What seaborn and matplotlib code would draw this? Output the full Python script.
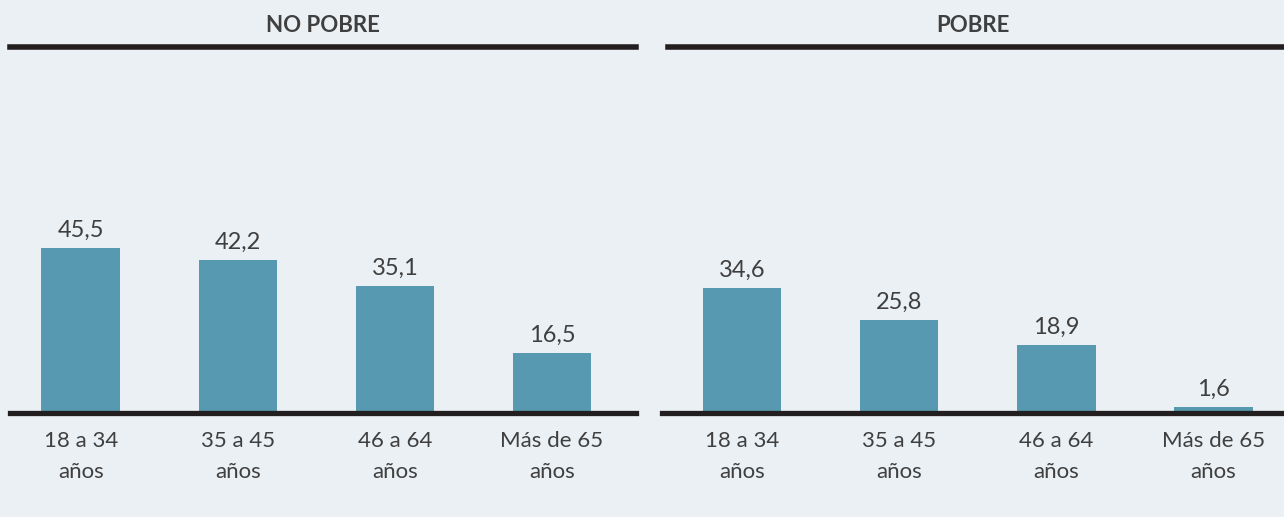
import matplotlib
matplotlib.use('Agg')

import matplotlib.pyplot as plt
import seaborn as sns
import pandas as pd

# Data
categories = ["18 a 34\naños", "35 a 45\naños", "46 a 64\naños", "Más de 65\naños"]
no_pobre = [45.5, 42.2, 35.1, 16.5]
pobre = [34.6, 25.8, 18.9, 1.6]
panel_titles = ["NO POBRE", "POBRE"]

bg = '#EBF0F4'
bar_color = '#5799B0'
text_color = '#3F3F3F'
line_color = '#231F20'

sns.set_style('white')
plt.rcParams['font.family'] = ['Lato', 'DejaVu Sans']

fig = plt.figure(figsize=(12.84, 5.17), dpi=100, facecolor=bg)
ax_left = fig.add_axes([10 / 1284, 1 - 413 / 517, 626 / 1284, 366 / 517])
ax_right = fig.add_axes([662 / 1284, 1 - 413 / 517, 622 / 1284, 366 / 517])

panels = [
    (ax_left, no_pobre, panel_titles[0], (-0.45, 3.535), None),
    (ax_right, pobre, panel_titles[1], (-0.51, 3.45), -0.471),
]

for ax, values, title, xlim, top_start in panels:
    df = pd.DataFrame({'grupo': categories, 'valor': values})
    sns.barplot(data=df, x='grupo', y='valor', color=bar_color, width=0.5,
                saturation=1, linewidth=0, ax=ax)
    ax.set_facecolor(bg)
    ax.set_xlim(*xlim)
    ax.set_ylim(0, 101)
    ax.set_xlabel('')
    ax.set_ylabel('')
    ax.set_yticks([])
    ax.tick_params(axis='x', length=0, pad=13, labelsize=16, labelcolor=text_color)
    for lbl in ax.get_xticklabels():
        lbl.set_linespacing(1.7)
    for s in ['left', 'right']:
        ax.spines[s].set_visible(False)
    ax.spines['bottom'].set_linewidth(3.8)
    ax.spines['bottom'].set_color(line_color)
    ax.spines['top'].set_linewidth(4)
    ax.spines['top'].set_color(line_color)
    if top_start is not None:
        ax.spines['top'].set_bounds(top_start, xlim[1])
    for i, v in enumerate(values):
        ax.annotate(f"{v:.1f}".replace('.', ','), (i, v), xytext=(0, 5),
                    textcoords='offset points', ha='center', va='bottom',
                    fontsize=17, color=text_color)
    ax.set_title(title, fontsize=16, fontweight='bold', color=text_color, pad=11)

plt.savefig('out.png', dpi=100, facecolor=bg)
